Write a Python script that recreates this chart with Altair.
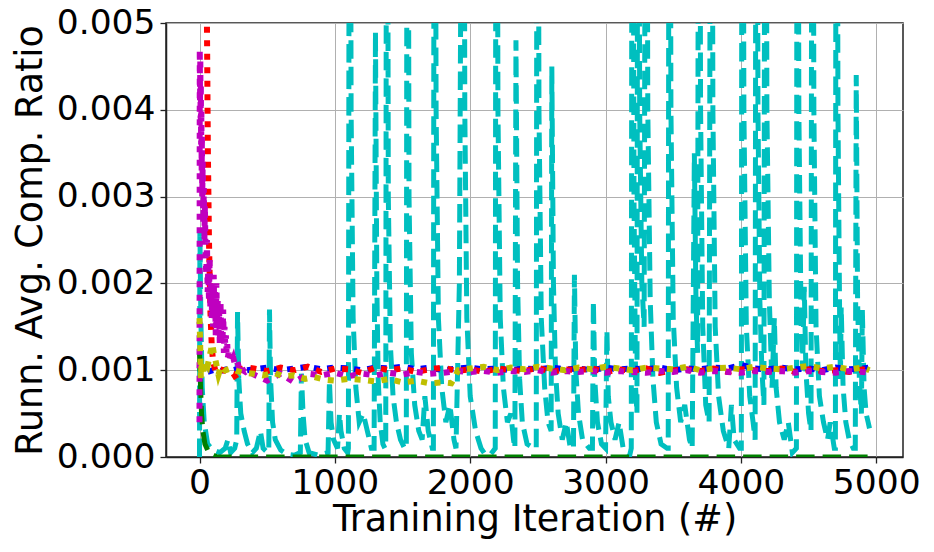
import altair as alt
import pandas as pd

# ---------------- data ----------------
cyan_x = [
    0, 3, 10, 20, 35, 60, 100, 150, 190, 210, 230, 260,
    275, 281, 290, 305, 330, 355, 390, 420, 450, 470, 505,
    512, 517, 525, 540, 560, 600, 650, 700,
    745, 753, 765, 780, 810, 880,
    950, 960, 972, 990, 1020, 1034, 1045, 1070, 1095,
    1100, 1110, 1120, 1135, 1155, 1180, 1210, 1240, 1270,
    1290, 1300, 1310, 1320, 1335, 1355, 1370,
    1376, 1384, 1395, 1410, 1430, 1455, 1485, 1515,
    1528, 1536, 1548, 1565, 1590, 1620, 1645, 1665, 1690, 1720,
    1728, 1736, 1748, 1765, 1790, 1820, 1850, 1880,
    1895, 1920, 1950, 1960, 1975, 2000, 2040, 2080, 2110, 2150,
    2185, 2193, 2205, 2222, 2245, 2275, 2300, 2320,
    2330, 2338, 2350, 2365, 2385, 2420, 2470,
    2488, 2496, 2508, 2525, 2550, 2575, 2598,
    2603, 2615, 2630, 2650, 2680, 2710, 2740,
    2763, 2770, 2780, 2800, 2830, 2880,
    2903, 2910, 2920, 2940, 2970, 3000,
    3010, 3020, 3040, 3070, 3100, 3130, 3180,
    3190, 3198, 3210, 3222, 3232, 3240, 3252, 3268, 3285, 3300, 3312, 3330, 3350, 3375, 3410, 3455,
    3463, 3471, 3483, 3500, 3525, 3555, 3585, 3620,
    3640, 3656, 3668, 3680, 3690, 3702, 3718, 3740, 3765, 3781, 3793, 3810, 3835, 3870, 3910, 3930, 3950, 3990,
    4003, 4010, 4022, 4040, 4065, 4090, 4105, 4114, 4126, 4140, 4155, 4170, 4180, 4192, 4210, 4230, 4247, 4260, 4285, 4320, 4350, 4380,
    4410, 4417, 4428, 4445, 4455, 4468, 4480, 4500, 4518, 4527, 4539, 4555, 4580, 4610, 4640, 4660, 4690,
    4698, 4705, 4717, 4730, 4735, 4741, 4755, 4775, 4800, 4830, 4845, 4852, 4862, 4875, 4890, 4897, 4910, 4925, 4940, 4950,
]
cyan_y = [
    0.0, 0.0026, 0.0016, 0.0008, 0.0004, 0.00015, 0.00008, 0.00005, 0.0001, 0.0002, 0.00005, 0.0001,
    0.0002, 0.00167, 0.0009, 0.0005, 0.0003, 0.00015, 0.00005, 0.0001, 0.0003, 0.0001, 0.00005,
    0.0001, 0.0017, 0.0009, 0.0004, 0.0002, 0.00008, 0.00003, 0.00002,
    0.00005, 0.00096, 0.0005, 0.0002, 0.00005, 0.00002,
    0.00005, 0.00088, 0.0004, 0.0002, 0.0001, 0.0005, 0.0003, 0.0001, 0.00005,
    0.0001, 0.012, 0.004, 0.0016, 0.0008, 0.0004, 0.0005, 0.0003, 0.0001,
    0.0001, 0.0049, 0.002, 0.0009, 0.0004, 0.00015, 0.0001,
    0.0001, 0.012, 0.003, 0.0013, 0.0007, 0.0004, 0.0002, 0.0001,
    0.0001, 0.012, 0.003, 0.0012, 0.0006, 0.0003, 0.0002, 0.0007, 0.0003, 0.0001,
    0.0001, 0.012, 0.004, 0.0016, 0.0008, 0.0004, 0.0006, 0.0002,
    0.0001, 0.002, 0.012, 0.004, 0.0016, 0.0007, 0.0003, 0.0001, 0.00003, 0.00003,
    0.0001, 0.012, 0.004, 0.0016, 0.0008, 0.0004, 0.0005, 0.0002,
    0.0001, 0.0048, 0.002, 0.0009, 0.0004, 0.00015, 0.0001,
    0.0001, 0.012, 0.004, 0.0016, 0.0008, 0.0004, 0.0003,
    0.0045, 0.002, 0.001, 0.0005, 0.0002, 0.0004, 0.0001,
    0.0001, 0.0021, 0.001, 0.0005, 0.0002, 0.0001,
    0.0001, 0.0018, 0.0009, 0.0004, 0.00015, 0.0001,
    0.00146, 0.0007, 0.0004, 0.0002, 0.0004, 0.0001, 0.00003,
    0.0001, 0.012, 0.003, 0.0008, 0.0005, 0.012, 0.004, 0.002, 0.0015, 0.012, 0.004, 0.0018, 0.0009, 0.0004, 0.00015, 0.0001,
    0.0001, 0.012, 0.004, 0.0016, 0.0008, 0.0004, 0.0006, 0.0002,
    0.0001, 0.0035, 0.0018, 0.0012, 0.012, 0.004, 0.0015, 0.0006, 0.0004, 0.012, 0.004, 0.0015, 0.0007, 0.0003, 0.0001, 0.0006, 0.0002, 0.0001,
    0.0001, 0.012, 0.004, 0.0015, 0.0007, 0.0004, 0.0002, 0.012, 0.004, 0.0018, 0.001, 0.0006, 0.012, 0.004, 0.0018, 0.0008, 0.0016, 0.0008, 0.0004, 0.0002, 0.0004, 0.00005,
    0.0001, 0.012, 0.004, 0.0015, 0.001, 0.00196, 0.001, 0.0005, 0.0003, 0.012, 0.004, 0.0015, 0.0007, 0.0004, 0.0002, 0.0004, 0.0001,
    0.0001, 0.012, 0.004, 0.0015, 0.0009, 0.00173, 0.0008, 0.0004, 0.0002, 0.0001, 0.0001, 0.0044, 0.0018, 0.0009, 0.0005, 0.0017, 0.0008, 0.0005, 0.0004, 0.00033,
]

green_x = [0, 8, 15, 25, 40, 60, 90, 130, 1000, 2000, 3000, 4000, 4950]
green_y = [0.0012, 0.0008, 0.0005, 0.0003, 0.00015, 0.00008, 0.00003, 0.0, 0.0, 0.0, 0.0, 0.0, 0.0]

tail_x = [400, 500, 600, 700, 800, 900, 1000, 1100, 1200, 1300, 1400, 1500, 1600, 1700,
          1800, 1900, 2000, 2100, 2200, 2300, 2400, 2500, 2600, 2700, 2800, 2900, 3000,
          3100, 3200, 3300, 3400, 3500, 3600, 3700, 3800, 3900, 4000, 4100, 4200, 4300,
          4400, 4500, 4600, 4700, 4800, 4900, 4950]

red_head_x = [48, 55, 62, 70, 80, 90, 100, 120, 150, 200, 250, 275, 300, 350]
red_head_y = [0.009, 0.005, 0.0035, 0.0025, 0.0017, 0.0013, 0.0011, 0.00098, 0.00101,
              0.00099, 0.00096, 0.0009, 0.00101, 0.00103]
red_tail_y = [0.00102, 0.00099, 0.00103, 0.001, 0.00104, 0.00098, 0.00102, 0.00101, 0.00097, 0.00103,
              0.001, 0.00102, 0.00098, 0.00101, 0.00103, 0.00099, 0.00101, 0.00098, 0.00102, 0.001,
              0.00099, 0.00103, 0.00098, 0.00101, 0.001, 0.00102, 0.00098, 0.00101, 0.00099, 0.00102,
              0.00097, 0.001, 0.00101, 0.00099, 0.00102, 0.00098, 0.00101, 0.001, 0.00099, 0.00102,
              0.00098, 0.00101, 0.00099, 0.001, 0.00098, 0.00101, 0.00099]

blue_head_x = [60, 100, 150, 200, 250, 300, 350]
blue_head_y = [0.00098, 0.001, 0.00099, 0.00101, 0.001, 0.00102, 0.001]
blue_tail_y = [0.00101, 0.00103, 0.001, 0.00102, 0.00104, 0.00101, 0.00103, 0.00102, 0.001, 0.00103,
               0.00102, 0.00104, 0.00101, 0.00103, 0.001, 0.00102, 0.00103, 0.00101, 0.00102, 0.001,
               0.00102, 0.00101, 0.00103, 0.00101, 0.00102, 0.001, 0.00103, 0.00101, 0.00102, 0.00101,
               0.00103, 0.001, 0.00102, 0.00101, 0.00103, 0.00102, 0.00106, 0.00102, 0.00101, 0.00103,
               0.00101, 0.00102, 0.001, 0.00103, 0.00101, 0.00102, 0.00103]

magenta_head_x = [0, 2, 4, 6, 8, 10, 12, 14, 16, 18,
                  20, 24, 28, 32, 36, 40, 45, 50, 55, 60,
                  65, 70, 75, 80, 85, 90, 95, 100, 105, 110,
                  115, 120, 125, 130, 135, 140, 145, 150, 155, 160,
                  165, 170, 175, 180, 185, 190, 195, 200, 205, 210,
                  215, 220, 230, 240, 250, 260, 275, 290, 305, 320,
                  340, 360]
magenta_head_y = [0.0004, 0.0047, 0.0041, 0.0046, 0.0039, 0.0043, 0.0036, 0.0040, 0.0033, 0.0037,
                  0.0030, 0.0034, 0.0027, 0.0031, 0.0025, 0.0029, 0.0023, 0.0021, 0.0025, 0.0019,
                  0.0022, 0.0018, 0.0023, 0.0017, 0.0021, 0.0016, 0.0020, 0.0015, 0.0021, 0.0016,
                  0.0019, 0.0014, 0.0020, 0.0015, 0.0018, 0.0014, 0.0017, 0.0013, 0.0018, 0.0014,
                  0.0016, 0.0013, 0.0017, 0.0012, 0.0015, 0.0013, 0.0014, 0.0012, 0.0013, 0.00115,
                  0.0012, 0.00112, 0.00118, 0.0011, 0.00114, 0.00108, 0.00112, 0.00104, 0.00108, 0.001,
                  0.00098, 0.001]
magenta_tail_y = [0.00095, 0.00088, 0.00096, 0.00086, 0.00096, 0.00094, 0.00097, 0.00093, 0.00096, 0.00094,
                  0.00097, 0.00095, 0.00098, 0.00096, 0.00097, 0.00099, 0.00098, 0.00099, 0.00097, 0.00099,
                  0.00098, 0.001, 0.00097, 0.00099, 0.00098, 0.00099, 0.00097, 0.00099, 0.00098, 0.00097,
                  0.00099, 0.00098, 0.001, 0.00097, 0.00099, 0.00098, 0.00097, 0.00099, 0.00098, 0.00099,
                  0.00097, 0.00099, 0.00098, 0.00097, 0.00099, 0.00098, 0.00097]

yellow_head_x = [0, 5, 10, 15, 25, 40, 60, 80, 95, 105, 120, 140, 160, 190, 230, 280, 330, 400,
                 470, 550, 620, 700, 780, 850, 930, 1000, 1100, 1200, 1300, 1400, 1500, 1600,
                 1700, 1800, 1860, 1890, 1910]
yellow_head_y = [0.0016, 0.0013, 0.0009, 0.0011, 0.00095, 0.0011, 0.00105, 0.0012, 0.0013, 0.0012,
                 0.0011, 0.00095, 0.00105, 0.001, 0.00102, 0.00099, 0.00097, 0.00096, 0.00094, 0.00097,
                 0.00093, 0.00094, 0.0009, 0.00092, 0.00089, 0.00088, 0.0009, 0.00089, 0.00087, 0.0009,
                 0.00086, 0.00088, 0.00085, 0.00086, 0.00085, 0.00093, 0.001]
yellow_tail_x = [2000, 2100, 2200, 2300, 2400, 2500, 2600, 2700, 2800, 2900, 3000, 3100, 3200,
                 3300, 3400, 3500, 3600, 3700, 3800, 3900, 4000, 4100, 4200, 4300, 4400, 4500,
                 4600, 4700, 4800, 4900, 4950]
yellow_tail_y = [0.00102, 0.00104, 0.001, 0.00103, 0.00101, 0.00104, 0.00102, 0.001, 0.00103, 0.00101,
                 0.00104, 0.00102, 0.001, 0.00103, 0.00102, 0.00101, 0.00104, 0.001, 0.00102, 0.00103,
                 0.00101, 0.00104, 0.00102, 0.00101, 0.00103, 0.00105, 0.00102, 0.00104, 0.00101, 0.00103,
                 0.001]

x_ticks = [0, 1000, 2000, 3000, 4000, 5000]
y_ticks = [0.0, 0.001, 0.002, 0.003, 0.004, 0.005]

assert len(cyan_x) == len(cyan_y)
assert len(red_tail_y) == len(tail_x) == len(blue_tail_y) == len(magenta_tail_y)
assert len(yellow_head_x) == len(yellow_head_y) and len(yellow_tail_x) == len(yellow_tail_y)
assert len(magenta_head_x) == len(magenta_head_y)


def frame(xs, ys):
    return pd.DataFrame({"x": xs, "y": ys, "i": list(range(len(xs)))})


FONT = "DejaVu Sans"
x_enc = alt.X(
    "x:Q",
    scale=alt.Scale(domain=[-247.5, 5197.5], nice=False, zero=False),
    axis=alt.Axis(values=x_ticks, format="d", title="Tranining Iteration (#)",
                  titlePadding=2, labelPadding=3),
)
y_enc = alt.Y(
    "y:Q",
    scale=alt.Scale(domain=[0, 0.005], nice=False, zero=False),
    axis=alt.Axis(values=y_ticks, format=".3f", title="Runn. Avg. Comp. Ratio",
                  titlePadding=7, labelPadding=5),
)


def line(df, color, dash, width):
    return alt.Chart(df).mark_line(
        color=color, strokeWidth=width, strokeDash=dash, clip=True, strokeCap="butt"
    ).encode(x=x_enc, y=y_enc, order="i:Q")


DASH = [18.5, 8]
DOT = [6, 7.5]

layers = [
    line(frame(cyan_x, cyan_y), "#00BFBF", DASH, 5),
    line(frame(green_x, green_y), "#008000", DASH, 5),
    line(frame(blue_head_x + tail_x, blue_head_y + blue_tail_y), "#0000FF", DOT, 6),
    line(frame(red_head_x + tail_x, red_head_y + red_tail_y), "#FF0000", DOT, 6),
    line(frame(magenta_head_x + tail_x, magenta_head_y + magenta_tail_y), "#BF00BF", DOT, 6),
    line(frame(yellow_head_x + yellow_tail_x, yellow_head_y + yellow_tail_y), "#BFBF00", DOT, 6),
]

chart = (
    alt.layer(*layers)
    .properties(
        width=737,
        height=434,
        padding={"left": 158, "top": 15, "right": 23, "bottom": 87},
        autosize=alt.AutoSizeParams(type="none"),
        background="white",
    )
    .configure_view(stroke="#222222", strokeWidth=1.5)
    .configure_axis(
        labelFont=FONT, labelFontSize=34.5, labelColor="black",
        titleFont=FONT, titleFontSize=36.5, titleFontWeight="normal", titleColor="black",
        tickColor="#222222", tickSize=6, tickWidth=1.3,
        domainColor="#222222", domainWidth=1.5,
        gridColor="#b0b0b0", gridWidth=1,
        labelFlush=False, labelOverlap=False,
    )
)

chart.save("out.html", embed_options={"renderer": "svg", "actions": False})
